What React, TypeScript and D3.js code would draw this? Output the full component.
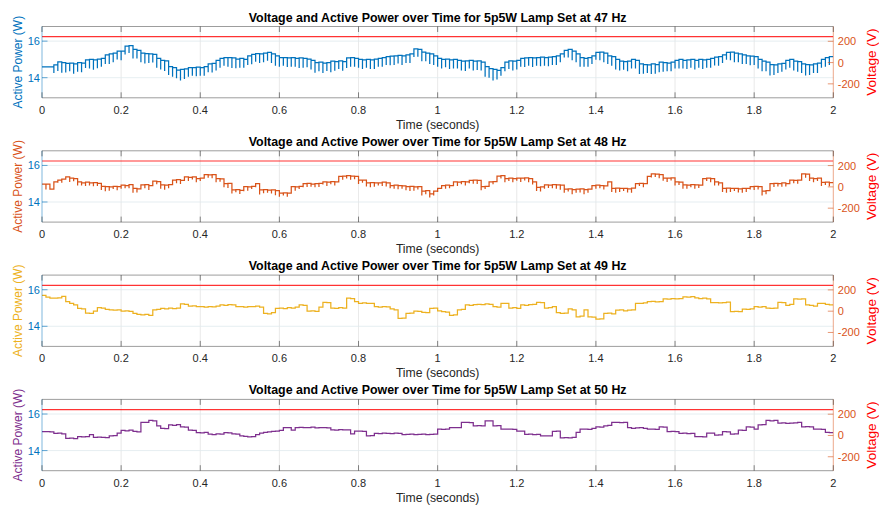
import React from 'react';
import * as d3 from 'd3';

// ---------- DATA ----------
const FREQS = ['47', '48', '49', '50'];
const SERIES_COLORS = ['#0072BD', '#D95319', '#EDB120', '#7E2F8E'];
const X_TICKS = [0, 0.2, 0.4, 0.6, 0.8, 1, 1.2, 1.4, 1.6, 1.8, 2];
const X_TICK_LABELS = ['0', '0.2', '0.4', '0.6', '0.8', '1', '1.2', '1.4', '1.6', '1.8', '2'];
const P_TICKS = [14, 16];
const V_TICKS = [-200, 0, 200];
const VOLTAGE_LEVEL = [243, 243, 243, 243];

// Active power (W), one value per 0.01 s
const P47 = [
  14.59, 14.59, 14.59, 14.7, 14.86, 14.82, 14.78, 14.8, 14.76, 14.82,
  14.8, 14.98, 15.0, 14.98, 15.02, 15.05, 15.25, 15.3, 15.35, 15.45,
  15.45, 15.72, 15.75, 15.55, 15.5, 15.35, 15.32, 15.3, 15.28, 15.05,
  14.95, 14.92, 14.6, 14.55, 14.42, 14.45, 14.48, 14.55, 14.55, 14.58,
  14.55, 14.6, 14.75, 14.78, 14.95, 15.05, 15.1, 15.1, 15.08, 15.02,
  15.05, 15.0, 15.2, 15.28, 15.32, 15.3, 15.35, 15.38, 15.3, 15.2,
  15.1, 15.1, 15.08, 15.1, 15.05, 15.08, 15.05, 15.02, 14.95, 14.82,
  14.85, 14.8, 14.82, 14.9, 14.88, 14.92, 14.88, 15.08, 15.1, 15.05,
  15.0, 14.98, 15.0, 14.98, 15.02, 15.05, 15.1, 15.15, 15.18, 15.2,
  15.22, 15.2, 15.25, 15.3, 15.58, 15.55, 15.4, 15.35, 15.3, 15.2,
  15.05, 15.0, 15.02, 14.98, 15.0, 14.95, 14.9, 14.92, 14.95, 14.9,
  14.92, 14.85, 14.6, 14.5, 14.45, 14.4, 14.55, 14.85, 14.92, 14.9,
  14.95, 15.05, 15.08, 15.1, 15.08, 15.1, 15.12, 15.1, 15.12, 15.15,
  15.2, 15.3, 15.5, 15.55, 15.45, 15.3, 15.1, 15.05, 15.1, 15.2,
  15.38, 15.4, 15.35, 15.2, 15.15, 15.0, 14.9, 14.88, 14.9, 15.0,
  14.95, 14.75, 14.72, 14.7, 14.75, 14.72, 14.85, 14.82, 14.8, 14.85,
  14.95, 15.0, 14.95, 14.98, 15.0, 14.95, 15.0, 14.98, 15.0, 15.05,
  15.12, 15.15, 15.25, 15.38, 15.4, 15.35, 15.3, 15.25, 15.2, 15.18,
  15.15, 15.0, 14.9, 14.85, 14.72, 14.7, 14.75, 14.78, 14.95, 15.0,
  14.9, 14.88, 14.75, 14.72, 14.7, 14.75, 14.8, 15.0, 15.1, 15.15,
];
// depth of the short downward spikes (W)
const DIP47 = [
  0, 0, 0, 0.45, 0.5, 0.55, 0.5, 0.45, 0.55, 0.5,
  0.5, 0.45, 0.5, 0.55, 0.5, 0.45, 0.5, 0.55, 0.5, 0.45,
  0.5, 0.45, 0.4, 0.5, 0.45, 0.5, 0.55, 0.5, 0.45, 0.5,
  0.5, 0.55, 0.45, 0.5, 0.45, 0.6, 0.55, 0.5, 0.45, 0.5,
  0.45, 0.5, 0.45, 0.5, 0.55, 0.5, 0.45, 0.5, 0.55, 0.5,
  0.5, 0.45, 0.5, 0.55, 0.45, 0.5, 0.5, 0.45, 0.5, 0.55,
  0.5, 0.45, 0.5, 0.5, 0.45, 0.55, 0.5, 0.45, 0.5, 0.55,
  0.5, 0.55, 0.45, 0.6, 0.5, 0.45, 0.5, 0.55, 0.5, 0.45,
  0.45, 0.5, 0.45, 0.5, 0.55, 0.45, 0.5, 0.45, 0.5, 0.5,
  0.45, 0.5, 0.45, 0.5, 0.45, 0.4, 0.5, 0.45, 0.55, 0.5,
  0.45, 0.5, 0.45, 0.5, 0.5, 0.45, 0.5, 0.55, 0.45, 0.5,
  0.5, 0.45, 0.55, 0.5, 0.6, 0.5, 0.45, 0.5, 0.45, 0.5,
  0.5, 0.45, 0.5, 0.45, 0.5, 0.45, 0.5, 0.45, 0.5, 0.45,
  0.5, 0.45, 0.4, 0.45, 0.5, 0.45, 0.5, 0.45, 0.5, 0.45,
  0.4, 0.45, 0.5, 0.45, 0.5, 0.55, 0.5, 0.45, 0.55, 0.5,
  0.45, 0.55, 0.5, 0.45, 0.55, 0.5, 0.55, 0.5, 0.45, 0.5,
  0.45, 0.5, 0.45, 0.5, 0.45, 0.5, 0.45, 0.5, 0.45, 0.5,
  0.45, 0.5, 0.45, 0.4, 0.45, 0.5, 0.45, 0.5, 0.45, 0.5,
  0.45, 0.5, 0.55, 0.5, 0.6, 0.55, 0.5, 0.45, 0.5, 0.45,
  0.5, 0.55, 0.5, 0.6, 0.55, 0.5, 0.55, 0.45, 0.5, 0.45,
];

const P48 = [
  14.98, 14.98, 14.7, 15.1, 15.2, 15.25, 15.37, 15.3, 15.28, 15.1,
  15.05, 15.08, 15.05, 15.06, 15.02, 14.85, 14.84, 14.82, 14.86, 14.84,
  14.92, 14.9, 14.95, 14.75, 14.72, 14.93, 14.95, 14.9, 15.14, 15.12,
  14.93, 14.92, 14.95, 15.2, 15.22, 15.18, 15.37, 15.35, 15.38, 15.28,
  15.3, 15.49, 15.48, 15.5, 15.28, 15.26, 15.0, 15.02, 14.66, 14.68,
  14.64, 14.84, 14.82, 14.86, 15.0, 14.66, 14.68, 14.65, 14.66, 14.62,
  14.49, 14.5, 14.48, 14.84, 14.82, 14.86, 15.0, 15.02, 14.98, 15.0,
  15.02, 15.1, 15.08, 15.12, 15.1, 15.4, 15.42, 15.44, 15.42, 15.4,
  15.19, 15.2, 15.05, 15.06, 15.04, 15.05, 15.08, 15.05, 14.9, 14.92,
  14.9, 14.88, 14.84, 14.85, 14.82, 14.84, 14.6, 14.62, 14.45, 14.6,
  14.75, 14.9, 14.92, 14.9, 15.1, 15.08, 15.12, 15.1, 15.18, 15.2,
  15.18, 14.84, 14.86, 15.1, 15.12, 15.42, 15.44, 15.28, 15.3, 15.28,
  15.31, 15.3, 15.32, 15.28, 15.1, 14.8, 14.82, 14.93, 14.92, 14.95,
  14.93, 14.92, 14.7, 14.72, 14.68, 14.7, 14.72, 14.68, 14.7, 14.9,
  14.92, 14.9, 14.88, 15.1, 14.75, 14.76, 14.74, 14.75, 14.72, 14.76,
  15.0, 15.02, 15.0, 15.4, 15.54, 15.52, 15.5, 15.31, 15.3, 15.32,
  15.1, 15.08, 14.93, 14.92, 14.95, 14.93, 14.92, 15.28, 15.3, 15.28,
  15.1, 15.05, 14.75, 14.76, 14.74, 14.75, 14.72, 14.75, 14.74, 14.84,
  14.86, 14.84, 14.6, 14.62, 15.0, 15.02, 15.0, 15.04, 15.0, 15.19,
  15.18, 15.2, 15.54, 15.52, 15.3, 15.28, 15.3, 15.07, 15.08, 15.06,
];
const DIP48 = [
  0, 0.3, 0, 0.2, 0.15, 0.2, 0, 0.2, 0.15, 0.2,
  0.15, 0.2, 0.15, 0.2, 0.15, 0.2, 0.25, 0.2, 0.15, 0.2,
  0.2, 0.15, 0.2, 0.25, 0.2, 0.15, 0.2, 0.25, 0.2, 0.15,
  0.2, 0.25, 0.2, 0.15, 0.2, 0.2, 0.15, 0.2, 0.15, 0.2,
  0.15, 0.2, 0.15, 0.2, 0.2, 0.15, 0.2, 0.25, 0.2, 0.15,
  0.2, 0.25, 0.2, 0.15, 0.2, 0.25, 0.2, 0.15, 0.2, 0.25,
  0.2, 0.15, 0.2, 0.25, 0.2, 0.15, 0.2, 0.2, 0.15, 0.2,
  0.2, 0.15, 0.2, 0.15, 0.2, 0.15, 0.2, 0.15, 0.2, 0.15,
  0.2, 0.15, 0.2, 0.25, 0.2, 0.15, 0.2, 0.2, 0.15, 0.2,
  0.2, 0.15, 0.2, 0.25, 0.2, 0.15, 0.25, 0.2, 0.2, 0.25,
  0.2, 0.15, 0.2, 0.15, 0.2, 0.2, 0.15, 0.2, 0.15, 0.2,
  0.2, 0.2, 0.15, 0.2, 0.15, 0.2, 0.15, 0.2, 0.15, 0.2,
  0.15, 0.2, 0.15, 0.2, 0.15, 0.2, 0.25, 0.2, 0.15, 0.2,
  0.2, 0.25, 0.2, 0.15, 0.25, 0.2, 0.2, 0.25, 0.2, 0.15,
  0.2, 0.15, 0.2, 0.15, 0.2, 0.25, 0.2, 0.15, 0.2, 0.25,
  0.2, 0.15, 0.2, 0.15, 0.2, 0.15, 0.2, 0.15, 0.2, 0.15,
  0.2, 0.15, 0.2, 0.2, 0.15, 0.2, 0.15, 0.2, 0.15, 0.2,
  0.2, 0.15, 0.2, 0.25, 0.2, 0.15, 0.2, 0.25, 0.2, 0.15,
  0.2, 0.15, 0.25, 0.2, 0.15, 0.2, 0.15, 0.2, 0.15, 0.2,
  0.15, 0.2, 0.15, 0.2, 0.15, 0.2, 0.15, 0.2, 0.15, 0.2,
];

const P49 = [
  15.69, 15.6, 15.54, 15.54, 15.55, 15.63, 15.35, 15.25, 15.17, 14.98,
  14.95, 14.72, 14.7, 14.83, 15.02, 15.0, 14.92, 14.9, 14.88, 14.9,
  14.83, 14.85, 14.82, 14.7, 14.65, 14.62, 14.65, 14.6, 14.9, 14.92,
  14.98, 14.95, 15.0, 14.97, 15.0, 15.22, 15.2, 15.1, 15.12, 15.08,
  15.07, 15.05, 15.07, 15.06, 15.1, 15.17, 15.15, 15.18, 15.17, 15.07,
  15.08, 15.05, 15.07, 15.07, 15.1, 15.05, 14.7, 14.68, 14.75, 14.98,
  15.0, 14.96, 15.02, 15.0, 15.05, 15.17, 15.15, 14.83, 14.85, 14.82,
  15.05, 15.31, 15.3, 15.0, 14.98, 15.02, 15.0, 15.54, 15.52, 15.35,
  15.26, 15.28, 15.25, 15.26, 15.07, 15.05, 15.08, 15.06, 14.95, 14.9,
  14.43, 14.45, 14.7, 14.72, 14.83, 14.82, 14.76, 14.75, 14.98, 15.0,
  14.85, 14.8, 14.78, 14.6, 14.62, 14.9, 14.92, 15.17, 15.15, 15.18,
  15.2, 15.18, 15.22, 15.2, 15.07, 15.05, 15.26, 15.25, 15.0, 15.02,
  14.98, 15.17, 15.15, 15.18, 15.2, 15.31, 15.3, 15.0, 15.02, 15.08,
  14.75, 14.7, 14.72, 14.95, 14.9, 14.52, 14.55, 14.9, 14.52, 14.5,
  14.39, 14.4, 14.7, 14.72, 14.68, 14.89, 14.9, 14.85, 14.88, 14.9,
  15.26, 15.25, 15.28, 15.35, 15.36, 15.33, 15.35, 15.5, 15.48, 15.52,
  15.5, 15.52, 15.61, 15.6, 15.62, 15.55, 15.52, 15.54, 15.5, 15.3,
  15.3, 15.28, 15.3, 15.32, 14.8, 14.82, 14.8, 14.94, 14.92, 14.95,
  15.07, 15.05, 15.08, 15.0, 14.98, 15.0, 15.31, 15.3, 15.15, 15.2,
  15.5, 15.48, 15.5, 15.17, 15.15, 15.1, 15.26, 15.25, 15.2, 15.17,
];

const P50 = [
  15.04, 15.04, 15.03, 14.94, 14.95, 14.92, 14.67, 14.68, 14.66, 14.76,
  14.75, 14.77, 14.88, 14.72, 14.73, 14.72, 14.71, 14.8, 14.82, 14.95,
  15.1, 15.08, 15.12, 15.05, 15.02, 15.54, 15.55, 15.65, 15.62, 15.35,
  15.22, 15.2, 15.4, 15.38, 15.42, 15.3, 15.28, 15.12, 15.1, 14.98,
  14.97, 14.99, 14.9, 14.88, 14.92, 14.9, 14.98, 14.97, 14.92, 14.9,
  14.8, 14.78, 14.75, 14.76, 14.88, 14.96, 15.0, 15.03, 15.05, 15.06,
  15.1, 15.26, 15.25, 15.12, 15.26, 15.27, 15.25, 15.26, 15.28, 15.24,
  15.26, 15.25, 15.24, 15.13, 15.12, 15.14, 15.13, 15.13, 14.92, 15.07,
  15.07, 15.05, 14.8, 14.82, 14.94, 14.93, 14.95, 14.94, 14.93, 14.95,
  14.94, 14.88, 14.89, 14.9, 14.88, 14.89, 14.9, 14.88, 14.89, 14.9,
  15.17, 15.16, 15.18, 15.26, 15.25, 15.26, 15.54, 15.55, 15.53, 15.35,
  15.36, 15.35, 15.63, 15.62, 15.35, 15.36, 15.17, 15.18, 15.17, 15.16,
  15.07, 15.06, 14.89, 14.9, 14.88, 14.89, 14.8, 14.81, 14.8, 15.05,
  15.07, 14.7, 14.71, 14.7, 14.72, 15.0, 15.17, 15.18, 15.16, 15.22,
  15.3, 15.28, 15.35, 15.38, 15.54, 15.55, 15.53, 15.54, 15.25, 15.22,
  15.24, 15.26, 15.22, 15.17, 15.18, 15.16, 15.3, 15.28, 15.04, 15.05,
  15.04, 14.94, 14.95, 14.93, 14.94, 14.76, 14.77, 14.75, 14.96, 14.95,
  14.85, 14.86, 15.04, 15.02, 14.9, 14.92, 15.12, 15.11, 15.3, 15.28,
  15.17, 15.4, 15.42, 15.65, 15.63, 15.65, 15.5, 15.51, 15.49, 15.5,
  15.52, 15.54, 15.3, 15.31, 15.3, 15.17, 15.18, 15.16, 15.0, 14.98,
];

const POWER = [P47, P48, P49, P50];
const DIPS = [DIP47, DIP48, null, null];

// ---------- LAYOUT ----------
const W = 879;
const H = 505;
const X0 = 42;
const X1 = 833.3;
const TOP0 = 26.5;
const STEP = 124.3;
const PH = 71.3;
const P_DOMAIN = [12.9, 16.8];
const V_DOMAIN = [-331, 339];
const FONT = '"Liberation Sans", Arial, Helvetica, sans-serif';
const AXIS = '#262626';
const V_AXIS = '#D95319';
const P_AXIS = '#0072BD';

function buildPoints(levels: number[], dips: number[] | null) {
  const n = levels.length;
  const dt = 2 / n;
  const pts: [number, number][] = [];
  for (let i = 0; i < n; i++) {
    const t0 = i * dt;
    const t1 = (i + 1) * dt;
    const L = levels[i];
    pts.push([t0, L]);
    if (dips && dips[i] > 0) {
      pts.push([t0, L - dips[i]]);
      pts.push([t0, L]);
    }
    pts.push([t1, L]);
  }
  return pts;
}

function Panel({ idx }: { idx: number }) {
  const top = TOP0 + STEP * idx;
  const bottom = top + PH;
  const x = d3.scaleLinear().domain([0, 2]).range([X0, X1]);
  const yP = d3.scaleLinear().domain(P_DOMAIN).range([bottom, top]);
  const yV = d3.scaleLinear().domain(V_DOMAIN).range([bottom, top]);
  const color = SERIES_COLORS[idx];
  const line = d3
    .line<[number, number]>()
    .x((d) => x(d[0]))
    .y((d) => yP(d[1]));
  const path = line(buildPoints(POWER[idx], DIPS[idx])) || '';
  const vLine = d3
    .line<number>()
    .x((d) => x(d))
    .y(() => yV(VOLTAGE_LEVEL[idx]))([0, 2]) || '';
  const clipId = `clip${idx}`;
  const tickLen = 5.5;
  const midY = (top + bottom) / 2;
  return (
    <g>
      <defs>
        <clipPath id={clipId}>
          <rect x={X0} y={top} width={X1 - X0} height={PH} />
        </clipPath>
      </defs>
      {/* grid */}
      {X_TICKS.slice(1, -1).map((t) => (
        <line key={'gx' + t} x1={x(t)} x2={x(t)} y1={top} y2={bottom} stroke="#e3e3e3" strokeWidth={0.8} />
      ))}
      {P_TICKS.map((p) => (
        <line key={'gy' + p} x1={X0} x2={X1} y1={yP(p)} y2={yP(p)} stroke="#e0eaee" strokeWidth={0.8} />
      ))}
      {/* data */}
      <g clipPath={`url(#${clipId})`}>
        <path d={vLine} stroke="#ff0000" strokeOpacity={0.8} strokeWidth={1.2} fill="none" />
        <path d={path} stroke={color} strokeWidth={1.25} fill="none" strokeLinejoin="miter" />
      </g>
      {/* box */}
      <line x1={X0} x2={X1} y1={top} y2={top} stroke={AXIS} strokeOpacity={0.45} strokeWidth={1} />
      <line x1={X0} x2={X1} y1={bottom} y2={bottom} stroke={AXIS} strokeOpacity={0.45} strokeWidth={1} />
      <line x1={X0} x2={X0} y1={top} y2={bottom} stroke={P_AXIS} strokeOpacity={0.5} strokeWidth={1} />
      <line x1={X1} x2={X1} y1={top} y2={bottom} stroke={V_AXIS} strokeOpacity={0.5} strokeWidth={1} />
      {/* x ticks */}
      {X_TICKS.map((t, i) => (
        <g key={'xt' + t}>
          <line x1={x(t)} x2={x(t)} y1={bottom} y2={bottom - tickLen} stroke={AXIS} strokeOpacity={0.55} />
          <line x1={x(t)} x2={x(t)} y1={top} y2={top + tickLen} stroke={AXIS} strokeOpacity={0.55} />
          <text x={x(t)} y={bottom + 16} textAnchor="middle" fontSize={11} fill={AXIS} fontFamily={FONT}>
            {X_TICK_LABELS[i]}
          </text>
        </g>
      ))}
      {/* left ticks */}
      {P_TICKS.map((p) => (
        <g key={'pt' + p}>
          <line x1={X0} x2={X0 + tickLen} y1={yP(p)} y2={yP(p)} stroke={P_AXIS} strokeOpacity={0.6} />
          <text x={X0 - 2} y={yP(p)} dy="0.36em" textAnchor="end" fontSize={11} fill={P_AXIS} fontFamily={FONT}>
            {p}
          </text>
        </g>
      ))}
      {/* right ticks */}
      {V_TICKS.map((v) => (
        <g key={'vt' + v}>
          <line x1={X1} x2={X1 - tickLen} y1={yV(v)} y2={yV(v)} stroke={V_AXIS} strokeOpacity={0.6} />
          <text x={X1 + 4.5} y={yV(v)} dy="0.36em" textAnchor="start" fontSize={11} fill={V_AXIS} fontFamily={FONT}>
            {v < 0 ? '-' + Math.abs(v) : v}
          </text>
        </g>
      ))}
      {/* labels */}
      <text
        x={(X0 + X1) / 2}
        y={top - 5}
        textAnchor="middle"
        fontSize={12.4}
        fontWeight="bold"
        fill="#000"
        fontFamily={FONT}
      >
        {`Voltage and Active Power over Time for 5p5W Lamp Set at ${FREQS[idx]} Hz`}
      </text>
      <text x={(X0 + X1) / 2} y={bottom + 31} textAnchor="middle" fontSize={12.2} fill={AXIS} fontFamily={FONT}>
        Time (seconds)
      </text>
      <text
        transform={`translate(${21.5},${midY}) rotate(-90)`}
        textAnchor="middle"
        fontSize={12}
        fill={color}
        fontFamily={FONT}
      >
        Active Power (W)
      </text>
      <text
        transform={`translate(${875.5},${midY}) rotate(-90)`}
        textAnchor="middle"
        fontSize={13.6}
        fill="#ff0000"
        fontFamily={FONT}
      >
        Voltage (V)
      </text>
    </g>
  );
}

export default function App() {
  return (
    <svg
      width={W}
      height={H}
      viewBox={`0 0 ${W} ${H}`}
      style={{ position: 'absolute', left: 0, top: 0, background: '#fff' }}
    >
      <rect x={0} y={0} width={W} height={H} fill="#fff" />
      {FREQS.map((f, i) => (
        <Panel key={f} idx={i} />
      ))}
    </svg>
  );
}
